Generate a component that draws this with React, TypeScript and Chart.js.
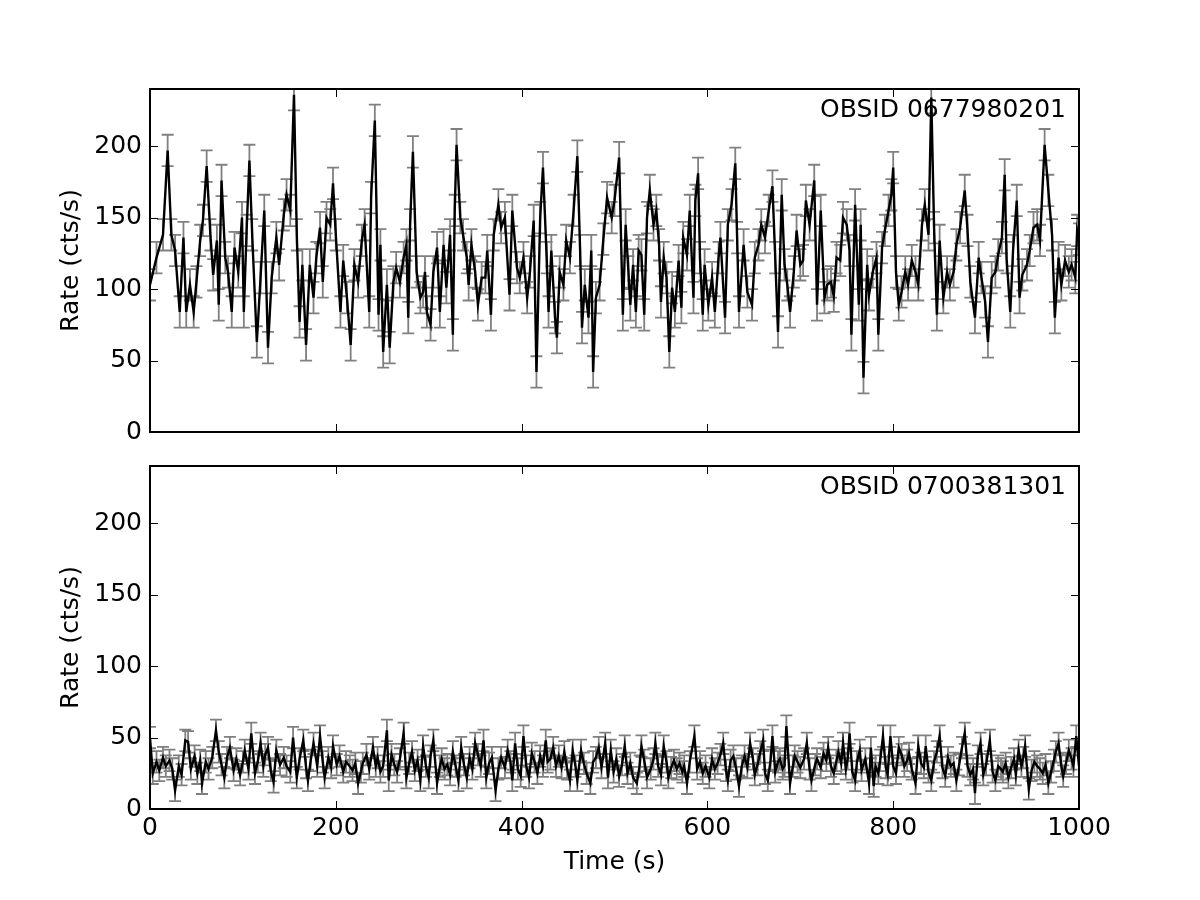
import React, { useEffect, useRef } from 'react';
import { Chart, registerables } from 'chart.js';

Chart.register(...registerables);

// ---- axes / labels ----
const X_TICKS = [0, 200, 400, 600, 800, 1000];
const Y_TICKS = [0, 50, 100, 150, 200];
const X_MIN = 0;
const X_MAX = 1000;
const Y_MIN = 0;
const Y_MAX = 240;
const X_TITLE = 'Time (s)';
const Y_TITLE = 'Rate (cts/s)';
const TOP_LABEL = 'OBSID 0677980201';
const BOTTOM_LABEL = 'OBSID 0700381301';

// typical 1-sigma error bar half-heights (cts/s)
const TOP_ERR = 11;
const BOTTOM_ERR = 7.5;

// ---- top panel (OBSID 0677980201) ----
const TOP_TIME = [
  0, 7, 14, 19, 23, 27, 32, 36, 39, 43,
  47, 50, 54, 57, 61, 65, 68, 72, 74, 77,
  81, 84, 88, 91, 95, 99, 101, 104, 107, 110,
  115, 119, 123, 127, 131, 136, 139, 144, 147, 151,
  155, 158, 161, 164, 168, 172, 176, 179, 183, 186,
  190, 194, 197, 200, 205, 208, 212, 216, 220, 224,
  228, 231, 236, 238, 242, 246, 248, 251, 255, 258,
  262, 265, 269, 273, 276, 278, 280, 283, 287, 291,
  294, 296, 298, 302, 305, 309, 312, 316, 319, 323,
  326, 328, 330, 334, 337, 341, 343, 346, 350, 353,
  357, 361, 363, 367, 370, 375, 378, 382, 387, 390,
  395, 398, 402, 406, 409, 413, 416, 420, 423, 427,
  429, 432, 436, 438, 441, 445, 448, 452, 456, 460,
  463, 465, 468, 472, 475, 477, 480, 484, 488, 492,
  497, 500, 505, 509, 512, 515, 517, 520, 523, 526,
  529, 532, 535, 538, 542, 545, 548, 550, 553, 556,
  559, 562, 565, 569, 572, 574, 578, 581, 585, 587,
  590, 592, 595, 597, 601, 605, 608, 612, 614, 619,
  622, 626, 630, 632, 634, 639, 643, 648, 651, 655,
  658, 662, 666, 670, 673, 676, 680, 683, 686, 689,
  693, 696, 700, 703, 706, 710, 715, 718, 722, 726,
  729, 733, 736, 739, 743, 746, 750, 753, 755, 759,
  763, 765, 768, 772, 774, 778, 782, 784, 788, 791,
  795, 798, 800, 803, 806, 809, 813, 816, 820, 824,
  827, 831, 834, 838, 841, 844, 847, 850, 854, 858,
  861, 865, 868, 872, 877, 880, 883, 888, 892, 895,
  899, 902, 906, 910, 913, 917, 920, 922, 926, 929,
  933, 936, 939, 944, 947, 951, 955, 958, 963, 967,
  971, 974, 978, 981, 985, 989, 992, 996, 998, 1000,
];
const TOP_RATE = [
  103, 122, 138, 197, 138, 127, 84, 136, 84, 103,
  84, 105, 134, 148, 186, 138, 110, 134, 89, 176,
  122, 112, 84, 129, 112, 150, 84, 141, 190, 138,
  63, 108, 155, 59, 108, 136, 117, 152, 166, 155,
  236, 138, 77, 117, 61, 117, 94, 122, 143, 105,
  150, 145, 174, 138, 84, 120, 94, 61, 117, 105,
  134, 145, 84, 164, 218, 82, 131, 56, 103, 59,
  105, 115, 105, 122, 131, 80, 145, 196, 112, 94,
  98, 112, 84, 75, 112, 129, 84, 131, 101, 138,
  68, 155, 201, 150, 138, 122, 103, 131, 112, 89,
  108, 108, 127, 82, 138, 159, 143, 150, 96, 155,
  115, 108, 122, 94, 112, 148, 42, 150, 185, 122,
  84, 127, 80, 66, 112, 103, 134, 122, 155, 193,
  127, 73, 103, 80, 127, 42, 94, 103, 135, 164,
  150, 162, 192, 82, 145, 112, 89, 117, 84, 127,
  124, 82, 150, 169, 145, 155, 131, 91, 122, 108,
  56, 101, 84, 120, 87, 136, 124, 155, 94, 162,
  181, 122, 82, 117, 89, 108, 84, 122, 136, 80,
  145, 159, 188, 136, 84, 131, 98, 89, 122, 131,
  145, 136, 155, 172, 122, 70, 166, 117, 103, 84,
  112, 141, 117, 120, 162, 145, 176, 89, 155, 94,
  103, 105, 95, 122, 120, 150, 145, 127, 68, 159,
  89, 145, 38, 117, 96, 112, 122, 68, 129, 141,
  155, 166, 185, 112, 89, 98, 112, 103, 120, 112,
  103, 145, 159, 138, 234, 143, 82, 134, 94, 112,
  103, 112, 131, 143, 169, 141, 105, 80, 122, 108,
  91, 63, 108, 112, 124, 136, 180, 122, 84, 127,
  162, 94, 110, 117, 127, 143, 145, 134, 201, 169,
  138, 80, 122, 103, 120, 112, 117, 108, 141, 135,
];

// ---- bottom panel (OBSID 0700381301) ----
const BOTTOM_TIME = [
  0, 3, 7, 10, 14, 17, 21, 24, 27, 31,
  34, 38, 41, 44, 48, 51, 54, 56, 60, 63,
  67, 71, 74, 77, 80, 83, 86, 90, 93, 97,
  100, 102, 106, 109, 113, 116, 119, 122, 124, 127,
  130, 133, 136, 140, 144, 147, 151, 154, 158, 161,
  165, 168, 170, 173, 176, 180, 183, 186, 188, 192,
  195, 197, 201, 204, 208, 211, 215, 218, 221, 224,
  227, 229, 233, 236, 240, 243, 245, 248, 251, 255,
  257, 260, 263, 266, 269, 273, 276, 279, 282, 285,
  288, 291, 294, 297, 300, 302, 305, 309, 312, 314,
  317, 320, 323, 326, 329, 332, 335, 338, 341, 344,
  347, 350, 353, 356, 359, 362, 365, 368, 372, 375,
  378, 382, 385, 388, 390, 393, 396, 399, 402, 405,
  408, 411, 414, 417, 420, 423, 426, 428, 431, 434,
  437, 440, 443, 446, 449, 452, 455, 458, 460, 464,
  467, 470, 474, 477, 480, 483, 486, 490, 493, 496,
  499, 502, 505, 508, 511, 514, 517, 520, 524, 527,
  529, 532, 535, 539, 542, 544, 547, 550, 553, 556,
  558, 561, 564, 567, 570, 573, 575, 578, 581, 586,
  589, 592, 595, 598, 602, 605, 608, 611, 614, 617,
  620, 622, 625, 628, 631, 634, 637, 640, 643, 646,
  649, 651, 654, 657, 660, 662, 665, 668, 670, 673,
  676, 678, 681, 683, 685, 689, 692, 694, 697, 700,
  704, 707, 710, 712, 716, 718, 722, 725, 728, 730,
  733, 736, 739, 741, 744, 746, 749, 751, 753, 756,
  759, 761, 764, 766, 770, 774, 776, 779, 781, 784,
  786, 789, 792, 794, 797, 800, 803, 806, 809, 812,
  815, 817, 820, 824, 827, 830, 833, 835, 838, 841,
  844, 847, 850, 853, 856, 859, 862, 865, 868, 871,
  874, 877, 880, 883, 886, 888, 891, 894, 897, 900,
  904, 907, 910, 913, 916, 918, 921, 924, 927, 930,
  932, 935, 938, 940, 942, 946, 949, 952, 955, 958,
  961, 964, 967, 970, 973, 975, 978, 981, 983, 986,
  989, 992, 994, 997, 1000,
];
const BOTTOM_RATE = [
  50, 25, 33, 27, 36, 30, 34, 28, 13, 30,
  24, 48, 47, 28, 37, 25, 34, 18, 33, 28,
  36, 55, 40, 31, 22, 36, 43, 27, 35, 24,
  33, 41, 28, 53, 25, 33, 46, 30, 38, 43,
  27, 19, 41, 31, 36, 30, 26, 50, 22, 35,
  48, 29, 20, 34, 46, 30, 51, 33, 22, 36,
  29, 44, 31, 37, 26, 33, 30, 27, 32, 18,
  26, 32, 38, 28, 43, 30, 36, 26, 30, 55,
  20, 38, 31, 26, 35, 53, 22, 32, 40, 27,
  34, 20, 44, 30, 22, 37, 48, 18, 30, 35,
  28, 31, 24, 40, 30, 20, 43, 31, 22, 36,
  28, 46, 38, 30, 48, 22, 32, 36, 13, 28,
  36, 29, 41, 33, 20, 46, 28, 23, 51, 30,
  22, 39, 33, 25, 37, 30, 48, 33, 35, 43,
  30, 37, 29, 40, 28, 20, 41, 30, 20, 41,
  32, 25, 18, 33, 36, 43, 29, 46, 22, 41,
  26, 35, 23, 31, 44, 25, 32, 22, 18, 30,
  44, 34, 22, 28, 35, 46, 30, 24, 44, 33,
  22, 29, 34, 28, 32, 26, 30, 18, 33, 51,
  28, 33, 25, 30, 22, 35, 28, 32, 38, 46,
  27, 20, 34, 37, 28, 16, 30, 37, 29, 46,
  35, 24, 31, 40, 48, 25, 20, 34, 51, 26,
  33, 35, 28, 30, 58, 18, 30, 37, 33, 29,
  35, 46, 28, 20, 31, 35, 29, 39, 34, 43,
  30, 25, 34, 40, 32, 46, 28, 35, 53, 26,
  20, 33, 41, 27, 35, 18, 43, 16, 30, 25,
  34, 51, 29, 24, 51, 30, 25, 43, 38, 30,
  34, 39, 28, 18, 44, 32, 29, 44, 26, 20,
  33, 40, 51, 29, 23, 36, 30, 32, 20, 31,
  43, 53, 30, 24, 28, 11, 37, 46, 24, 31,
  48, 26, 20, 30, 28, 26, 32, 22, 29, 35,
  24, 41, 30, 36, 44, 14, 27, 33, 30, 28,
  25, 31, 18, 26, 34, 40, 46, 30, 23, 32,
  41, 35, 30, 51, 30,
];

const FONT_FAMILY = '"DejaVu Sans", "Liberation Sans", sans-serif';
const FONT_SIZE = 25;

Chart.defaults.font.family = FONT_FAMILY;

const panelPlugin = {
  id: 'panel',
  beforeDatasetsDraw(chart: any, _args: any, opts: any) {
    const { ctx, chartArea, scales } = chart;
    const xs = scales.x;
    const ys = scales.y;
    const data = chart.data.datasets[0].data as { x: number; y: number }[];
    const err = opts.err as number;
    const cap = 6;
    ctx.save();
    ctx.beginPath();
    ctx.rect(chartArea.left, chartArea.top, chartArea.right - chartArea.left, chartArea.bottom - chartArea.top);
    ctx.clip();
    ctx.strokeStyle = '#808080';
    ctx.lineWidth = 1.8;
    ctx.beginPath();
    for (const p of data) {
      const x = xs.getPixelForValue(p.x);
      const yLo = ys.getPixelForValue(p.y - err);
      const yHi = ys.getPixelForValue(p.y + err);
      ctx.moveTo(x, yLo);
      ctx.lineTo(x, yHi);
      ctx.moveTo(x - cap, yLo);
      ctx.lineTo(x + cap, yLo);
      ctx.moveTo(x - cap, yHi);
      ctx.lineTo(x + cap, yHi);
    }
    ctx.stroke();
    ctx.restore();
  },
  afterDraw(chart: any, _args: any, opts: any) {
    const { ctx, chartArea, scales } = chart;
    const { left, right, top, bottom } = chartArea;
    const xs = scales.x;
    const ys = scales.y;
    const tl = 8;
    ctx.save();
    // inward ticks on all four sides
    ctx.strokeStyle = '#000';
    ctx.lineWidth = 1;
    ctx.beginPath();
    for (const v of X_TICKS) {
      const x = Math.round(xs.getPixelForValue(v)) + 0.5;
      ctx.moveTo(x, bottom);
      ctx.lineTo(x, bottom - tl);
      ctx.moveTo(x, top);
      ctx.lineTo(x, top + tl);
    }
    for (const v of Y_TICKS) {
      const y = Math.round(ys.getPixelForValue(v)) + 0.5;
      ctx.moveTo(left, y);
      ctx.lineTo(left + tl, y);
      ctx.moveTo(right, y);
      ctx.lineTo(right - tl, y);
    }
    ctx.stroke();
    // frame
    ctx.lineWidth = 2;
    ctx.strokeRect(left, top, right - left, bottom - top);
    // panel label
    ctx.fillStyle = '#000';
    ctx.font = `${FONT_SIZE}px ${FONT_FAMILY}`;
    ctx.textAlign = 'right';
    ctx.textBaseline = 'middle';
    ctx.fillText(opts.label, right - 13, top + 21);
    ctx.restore();
  },
};

function makeConfig(times: number[], rates: number[], err: number, label: string, isBottom: boolean): any {
  const font = { family: FONT_FAMILY, size: FONT_SIZE };
  return {
    type: 'line',
    data: {
      datasets: [
        {
          data: times.map((t, i) => ({ x: t, y: rates[i] })),
          borderColor: '#000',
          borderWidth: 2.4,
          pointRadius: 0,
          tension: 0,
          fill: false,
        },
      ],
    },
    options: {
      animation: false,
      responsive: false,
      maintainAspectRatio: false,
      events: [],
      layout: {
        padding: { left: 0, right: 121, top: isBottom ? 16 : 89, bottom: isBottom ? 0 : 18 },
      },
      plugins: {
        legend: { display: false },
        tooltip: { enabled: false },
        panel: { err, label },
      },
      scales: {
        x: {
          type: 'linear',
          min: X_MIN,
          max: X_MAX,
          display: isBottom,
          afterBuildTicks: (s: any) => {
            s.ticks = X_TICKS.map((v) => ({ value: v }));
          },
          afterFit: (s: any) => {
            if (isBottom) s.height = 91;
            s.paddingLeft = 0;
            s.paddingRight = 0;
            s.paddingTop = 0;
            s.paddingBottom = 0;
          },
          grid: { display: false, drawTicks: false },
          border: { display: false },
          ticks: { font, color: '#000', padding: 4, maxRotation: 0, autoSkip: false, callback: (v: any) => String(v) },
          title: { display: true, text: X_TITLE, font, color: '#000', padding: { top: 0, bottom: 23 } },
        },
        y: {
          type: 'linear',
          min: Y_MIN,
          max: Y_MAX,
          afterBuildTicks: (s: any) => {
            s.ticks = Y_TICKS.map((v) => ({ value: v }));
          },
          afterFit: (s: any) => {
            s.width = 150;
            s.paddingTop = 0;
            s.paddingBottom = 0;
            s.paddingLeft = 0;
            s.paddingRight = 0;
          },
          grid: { display: false, drawTicks: false },
          border: { display: false },
          ticks: { font, color: '#000', padding: 8, autoSkip: false, callback: (v: any) => String(v) },
          title: { display: true, text: Y_TITLE, font, color: '#000', padding: { top: 56, bottom: 0 } },
        },
      },
    },
    plugins: [panelPlugin],
  };
}

function Panel(props: { times: number[]; rates: number[]; err: number; label: string; isBottom: boolean; top: number }) {
  const ref = useRef<HTMLCanvasElement | null>(null);
  useEffect(() => {
    if (!ref.current) return;
    const chart = new Chart(ref.current, makeConfig(props.times, props.rates, props.err, props.label, props.isBottom));
    return () => chart.destroy();
  }, []);
  return (
    <canvas
      ref={ref}
      width={1200}
      height={450}
      style={{ position: 'absolute', left: 0, top: props.top, width: 1200, height: 450, display: 'block' }}
    />
  );
}

export default function App() {
  return (
    <div style={{ position: 'absolute', left: 0, top: 0, width: 1200, height: 900, background: '#fff' }}>
      <Panel times={TOP_TIME} rates={TOP_RATE} err={TOP_ERR} label={TOP_LABEL} isBottom={false} top={0} />
      <Panel times={BOTTOM_TIME} rates={BOTTOM_RATE} err={BOTTOM_ERR} label={BOTTOM_LABEL} isBottom={true} top={450} />
    </div>
  );
}
